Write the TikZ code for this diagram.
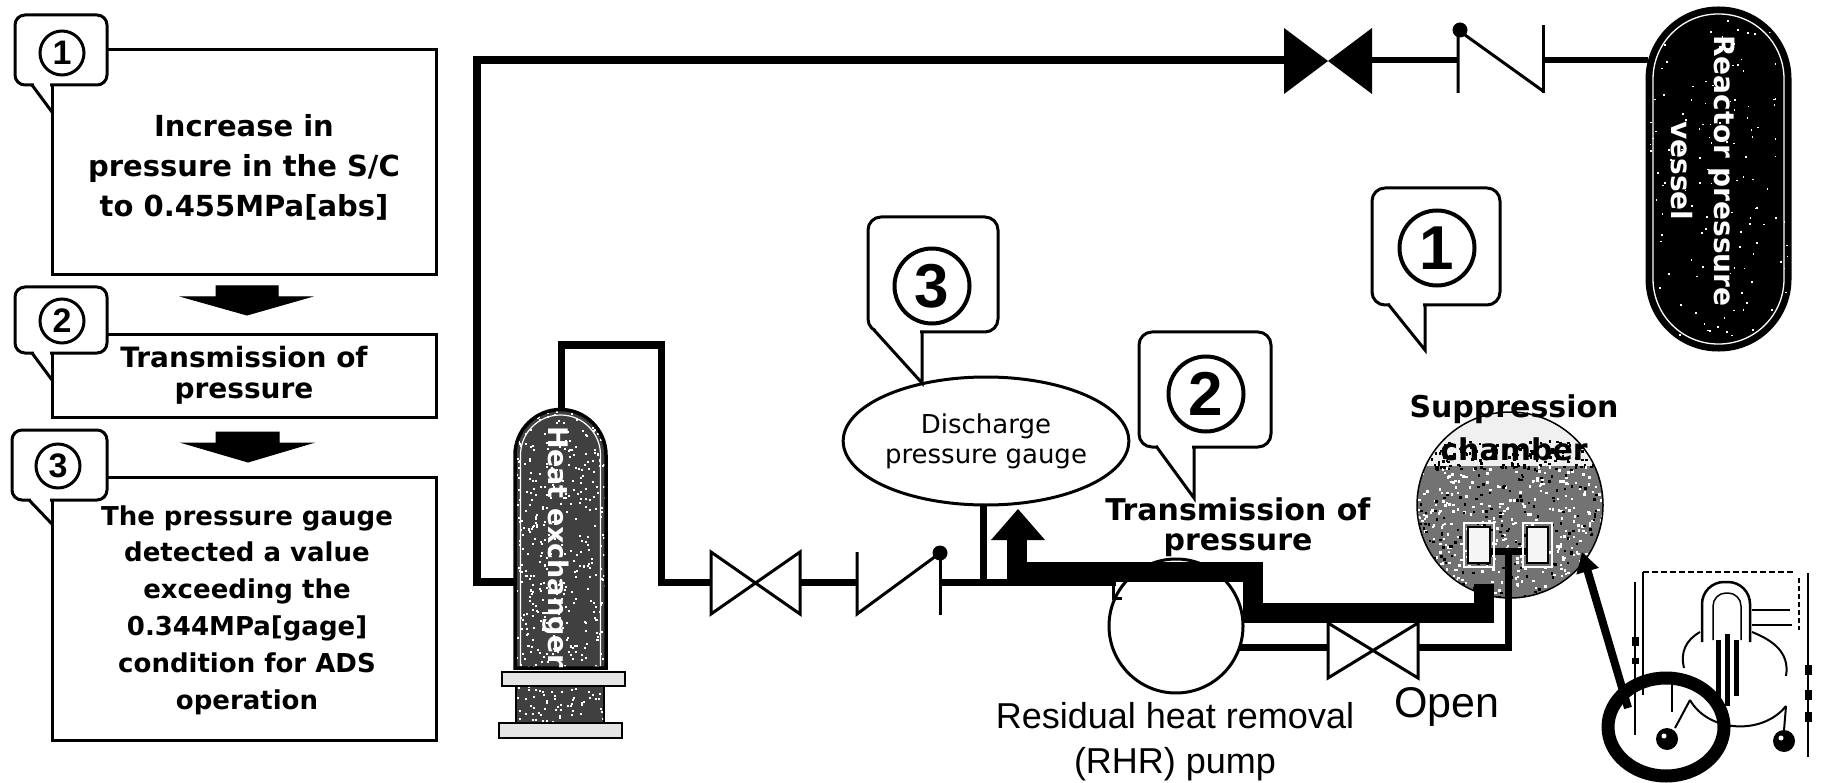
\documentclass[tikz,border=0pt]{standalone}
\usepackage{fontspec}
\newfontfamily\fdv{DejaVu Sans}
\newfontfamily\flib{Liberation Sans}
\usetikzlibrary{arrows.meta,shapes.geometric}
\begin{document}
\begin{tikzpicture}[x=1pt,y=-1pt,line join=miter,
  boxln/.style={draw=black,line width=3pt,fill=white},
  tabln/.style={draw=black,line width=3pt,fill=white,rounded corners=10pt},
  calln/.style={draw=black,line width=3pt,fill=white,rounded corners=13pt},
  pipe/.style={line width=7pt},
  thin3/.style={line width=3pt},
  numsmall/.style={circle,draw=black,line width=3pt,minimum size=44pt,inner sep=0pt,font=\flib\bfseries\fontsize{34}{34}\selectfont},
  numbig/.style={circle,draw=black,line width=4pt,minimum size=75pt,inner sep=0pt,fill=white,font=\flib\bfseries\fontsize{62}{62}\selectfont},
  blockarrow/.style={fill=black,draw=black,line width=1pt},
  inset/.style={line width=2pt}
]
\useasboundingbox (0,0) rectangle (1822,783);
\fill[white] (0,0) rectangle (1822,783);
\pgfmathsetseed{4242}

% ---------------- left panel ----------------
\draw[boxln] (52,50) rectangle (436,275);
\draw[tabln] (15,15) rectangle (107,85);
\fill[white] (34,82) rectangle (50.4,88);
\draw[thin3] (32,85) -- (52,112);
\node[numsmall] (L1) at (62,53) {1};
\node[align=center,font=\fdv\bfseries\fontsize{29}{40}\selectfont] (T1) at (244,167) {Increase in\\pressure in the S/C\\to 0.455MPa[abs]};

\draw[blockarrow] (216,286) -- (278,286) -- (278,297) -- (310,297) -- (247,315) -- (183,297) -- (216,297) -- cycle;

\draw[boxln] (52,335) rectangle (436,417);
\draw[tabln] (15,287) rectangle (107,353);
\fill[white] (34,350) rectangle (50.4,356);
\draw[thin3] (32,353) -- (52,380);
\node[numsmall] (L2) at (62,321) {2};
\node[align=center,font=\fdv\bfseries\fontsize{28}{31}\selectfont] (T2) at (244,375) {Transmission of\\pressure};

\draw[blockarrow] (216,432) -- (279,432) -- (279,443) -- (312,443) -- (248,462) -- (183,443) -- (216,443) -- cycle;

\draw[boxln] (52,477) rectangle (436,740);
\draw[tabln] (12,430) rectangle (107,500);
\fill[white] (31,497) rectangle (50.4,503);
\draw[thin3] (29,500) -- (52,524);
\node[numsmall] (L3) at (58,466) {3};
\node[align=center,font=\fdv\bfseries\fontsize{26}{36.8}\selectfont] (T3) at (247,610) {The pressure gauge\\detected a value\\exceeding the\\0.344MPa[gage]\\condition for ADS\\operation};

% ---------------- pipes ----------------
\coordinate (jn) at (983,582);
\draw[line width=8pt] (515,582) -- (477,582) -- (477,60) -- (1286,60);
\draw[line width=6pt] (1370,60) -- (1458,60);
\draw[line width=6pt] (1543,60) -- (1648,60);
\draw[pipe] (561,415) -- (561,345) -- (661,345) -- (661,582) -- (712,582);
\draw[pipe] (799,582) -- (857,582);
\draw[pipe] (940,582) -- (1116,582);
\draw[pipe] (983,505) -- (jn);

% top valves
\fill (1284,28) -- (1372,94) -- (1372,28) -- (1284,94) -- cycle;
\draw[thin3] (1458,93) -- (1458,30) -- (1543,91);
\draw[thin3] (1543,25) -- (1543,93);
\fill (1460,30) circle[radius=7.5pt];

% lower valves
\draw[thin3,fill=white] (711,552) -- (800,614) -- (800,552) -- (711,614) -- cycle;
\draw[thin3] (857,552) -- (857,614) -- (940,553);
\draw[thin3] (940,553) -- (940,615);
\fill (940,553) circle[radius=7.5pt];

% ---------------- heat exchanger ----------------
\fill[black!75] (515,668) -- (515,455) .. controls (515,429.9) and (535.4,409.5) .. (560.5,409.5) .. controls (585.6,409.5) and (606,429.9) .. (606,455) -- (606,668) -- cycle;
\begin{scope}
\clip (515,668) -- (515,455) .. controls (515,429.9) and (535.4,409.5) .. (560.5,409.5) .. controls (585.6,409.5) and (606,429.9) .. (606,455) -- (606,668) -- cycle;
\foreach \k in {1,...,420}{\pgfmathsetmacro\px{513+95*rnd}\pgfmathsetmacro\py{405+265*rnd}\fill[white] (\px,\py) rectangle ++(2,2);}
\end{scope}
\draw[line width=3.5pt] (515,668) -- (515,455) .. controls (515,429.9) and (535.4,409.5) .. (560.5,409.5) .. controls (585.6,409.5) and (606,429.9) .. (606,455) -- (606,668) -- cycle;
\draw[white,line width=1.2pt] (520.5,666) -- (520.5,455) .. controls (520.5,432.9) and (538.4,415) .. (560.5,415) .. controls (582.6,415) and (600.5,432.9) .. (600.5,455) -- (600.5,666);
\draw[line width=2.5pt,fill=gray!20] (502,672) rectangle (625,686);
\draw[line width=2.5pt,fill=black!75] (516,686) rectangle (604,723);
\begin{scope}
\clip (517,687) rectangle (603,722);
\foreach \k in {1,...,60}{\pgfmathsetmacro\px{516+88*rnd}\pgfmathsetmacro\py{686+37*rnd}\fill[white] (\px,\py) rectangle ++(2,2);}
\end{scope}
\draw[line width=2.5pt,fill=gray!20] (499,723) rectangle (622,738);
\node[rotate=-90,text=white,font=\fdv\bfseries\fontsize{27}{30}\selectfont] (hxt) at (556,547) {Heat exchanger};

% ---------------- pump ----------------
\draw[thin3,fill=white] (1176,626) circle[radius=67pt];
\draw[thin3] (1113,584) -- (1113,598) -- (1122,598);

% ---------------- suppression chamber ----------------
\fill[black!55] (1510,505) circle[radius=93pt];
\begin{scope}
\clip (1510,505) circle[radius=93pt];
\fill[gray!12] (1410,405) rectangle (1612,466);
\foreach \k in {1,...,150}{\pgfmathsetmacro\px{1415+190*rnd}\pgfmathsetmacro\py{440+28*rnd}\fill[black] (\px,\py) rectangle ++(2.5,2.5);}
\foreach \k in {1,...,380}{\pgfmathsetmacro\px{1415+190*rnd}\pgfmathsetmacro\py{466+135*rnd}\fill[white] (\px,\py) rectangle ++(2.5,2.5);}
\foreach \k in {1,...,200}{\pgfmathsetmacro\px{1415+190*rnd}\pgfmathsetmacro\py{466+135*rnd}\fill[black] (\px,\py) rectangle ++(2.5,2.5);}
\end{scope}
\draw[line width=1.5pt] (1510,505) circle[radius=93pt];
\draw[pipe] (1240,647) -- (1330,647);
\draw[pipe] (1416,647) -- (1508,647) -- (1508,551);
\draw[pipe] (1488,551) -- (1529,551);
\draw[white,line width=1.2pt] (1464,523) rectangle (1494,567);
\draw[white,line width=1.2pt] (1523,523) rectangle (1552,567);
\draw[line width=2.5pt,fill=gray!8] (1468,527) rectangle (1490,563);
\draw[line width=2.5pt,fill=gray!8] (1527,527) rectangle (1548,563);

% open valve
\draw[thin3,fill=white] (1328,623) -- (1418,678) -- (1418,623) -- (1328,678) -- cycle;

% ---------------- transmission band ----------------
\draw[line width=20pt] (1484,584) -- (1484,613) -- (1253,613) -- (1253,572) -- (1017,572) -- (1017,538);
\fill (991,540) -- (1045,540) -- (1018,509) -- cycle;

% ---------------- gauge ----------------
\node[ellipse,draw=black,line width=3pt,fill=white,minimum width=224pt,minimum height=128pt,inner sep=0pt,align=center,font=\fdv\fontsize{26}{30}\selectfont] (gauge) at (986,441) {Discharge\\pressure gauge};

% ---------------- callouts ----------------
\draw[calln] (868,217) rectangle (998,332);
\fill[white] (876,329) rectangle (920.4,336);
\draw[thin3] (874,330) -- (922,383) -- (922,331);
\node[numbig] (C3) at (932,286) {3};

\draw[calln] (1139,332) rectangle (1271,447);
\fill[white] (1158,444) rectangle (1192.4,451);
\draw[thin3] (1156,446) -- (1194,498) -- (1194,446);
\node[numbig] (C2) at (1206,394) {2};

\draw[calln] (1372,188) rectangle (1500,305);
\fill[white] (1390,302) rectangle (1423.4,309);
\draw[thin3] (1388,304) -- (1425,350) -- (1425,304);
\node[numbig] (C1) at (1437,248) {1};

% ---------------- reactor pressure vessel ----------------
\fill[black, rounded corners=71pt] (1647,8) rectangle (1790,350);
\begin{scope}
\clip[rounded corners=71pt] (1647,8) rectangle (1790,350);
\foreach \k in {1,...,140}{\pgfmathsetmacro\px{1647+143*rnd}\pgfmathsetmacro\py{8+342*rnd}\fill[white] (\px,\py) rectangle ++(1.6,1.6);}
\end{scope}
\draw[line width=3pt, rounded corners=71pt] (1647,8) rectangle (1790,350);
\draw[white,line width=1.3pt, rounded corners=65pt] (1653,14) rectangle (1784,344);
\node[rotate=-90,text=white,align=center,font=\fdv\bfseries\fontsize{28}{43}\selectfont] (rpvt) at (1703,171) {Reactor pressure\\vessel};

% ---------------- labels ----------------
\node[align=center,font=\fdv\bfseries\fontsize{30}{30}\selectfont] (trans) at (1238,527) {Transmission of\\pressure};
\node[align=center,font=\fdv\bfseries\fontsize{30}{43}\selectfont] (sc) at (1514,428) {Suppression\\chamber};
\node[font=\flib\fontsize{43}{43}\selectfont] (open) at (1447,707) {Open};
\node[align=center,font=\flib\fontsize{36}{45}\selectfont] (rhr) at (1175,742) {Residual heat removal\\(RHR) pump};

% ---------------- inset ----------------
\draw[line width=1.5pt, dash pattern=on 6pt off 3pt] (1643,572) -- (1795,572);
\draw[inset] (1643,572) -- (1643,695);
\draw[line width=2.5pt] (1635,582) -- (1635,735);
\fill (1632,637) rectangle (1639,646);
\fill (1632,658) rectangle (1639,664);
\draw[inset] (1808,573) -- (1808,757);
\draw[line width=1.5pt, dash pattern=on 5pt off 3pt] (1799,578) -- (1799,630);
\fill (1805,665) rectangle (1812,675);
\fill (1805,690) rectangle (1812,700);
\fill (1805,712) rectangle (1812,722);
\draw[line width=2.5pt, rounded corners=22pt] (1702,642) -- (1702,582) -- (1750,582) -- (1750,642);
\draw[line width=1.5pt, rounded corners=13pt] (1713,640) -- (1713,593) -- (1741,593) -- (1741,640);
\fill (1716,640) rectangle (1721,700);
\fill (1725,634) rectangle (1730,706);
\fill (1734,640) rectangle (1739,696);
\draw[inset] (1700,632) .. controls (1686,640) and (1680,652) .. (1684,668);
\draw[inset] (1752,632) .. controls (1772,640) and (1790,652) .. (1786,676);
\draw[inset] (1690,700) .. controls (1708,732) and (1762,736) .. (1786,706);
\draw[inset] (1752,610) -- (1790,610);
\draw[inset] (1752,625) -- (1792,625);
\draw[inset] (1672,680) -- (1672,712);
\draw[inset] (1675,728) -- (1690,700);
\draw[inset] (1786,706) -- (1784,730);
\fill (1667,739) circle[radius=11pt];
\fill (1784,741) circle[radius=11pt];
\fill[white] (1664,736) circle[radius=2.5pt];
\fill[white] (1781,738) circle[radius=2.5pt];
\draw[line width=13pt] (1666,727) ellipse[x radius=58pt, y radius=49pt];
\draw[line width=8pt, -{Triangle[length=20pt,width=22pt]}] (1628,708) -- (1582,552);
\end{tikzpicture}
\end{document}
